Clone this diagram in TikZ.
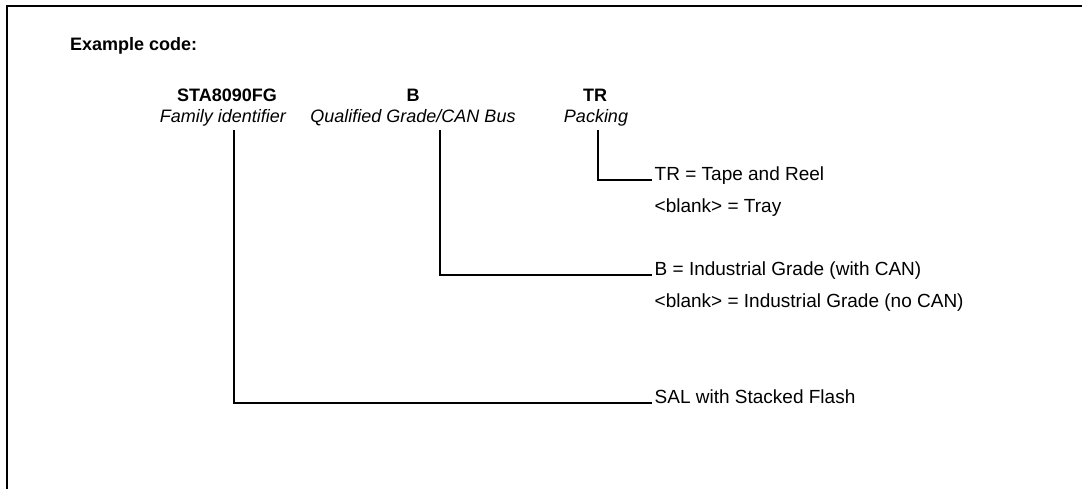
\documentclass[tikz,border=0pt]{standalone}
\usepackage{fontspec}
\setmainfont{Liberation Sans}
\begin{document}
\begin{tikzpicture}[x=1pt,y=-1pt,
  txt/.style={inner sep=0pt, font=\fontsize{18}{21}\selectfont},
  code/.style={txt, font=\fontsize{18}{21}\selectfont\bfseries, anchor=base},
  role/.style={txt, font=\fontsize{18}{21}\selectfont\itshape, anchor=base},
  desc/.style={txt, font=\fontsize{19}{23}\selectfont, anchor=base west, inner xsep=2.5pt},
  frame/.style={line width=2.6pt},
  link/.style={line width=2pt}]
\useasboundingbox (0,0) rectangle (1082,488);
% frame
\coordinate (ftr) at (1084,6);
\coordinate (fbl) at (7,490);
\draw[frame] (fbl) |- (ftr);
% header
\node[txt, font=\fontsize{18}{21}\selectfont\bfseries, anchor=base west] (ex) at (70,50) {Example code:};
\node[code] (c1) at (227,101) {STA8090FG};
\node[role] (r1) at (223,122) {Family identifier};
\node[code] (c2) at (413,101) {B};
\node[role] (r2) at (413,122) {Qualified Grade/CAN Bus};
\node[code] (c3) at (595,101) {TR};
\node[role] (r3) at (596,122) {Packing};
% descriptions
\node[desc] (d1) at (652,180) {TR = Tape and Reel};
\node[desc] (d1b) at (652,212) {<blank> = Tray};
\node[desc] (d2) at (652,275) {B = Industrial Grade (with CAN)};
\node[desc] (d2b) at (652,307) {<blank> = Industrial Grade (no CAN)};
\node[desc] (d3) at (652,403) {SAL with Stacked Flash};
% connectors
\coordinate (t1) at (234,130);
\coordinate (t2) at (440,130);
\coordinate (t3) at (598,130);
\draw[link] (t3) |- (d1.base west);
\draw[link] (t2) |- (d2.base west);
\draw[link] (t1) |- (d3.base west);
\end{tikzpicture}
\end{document}
